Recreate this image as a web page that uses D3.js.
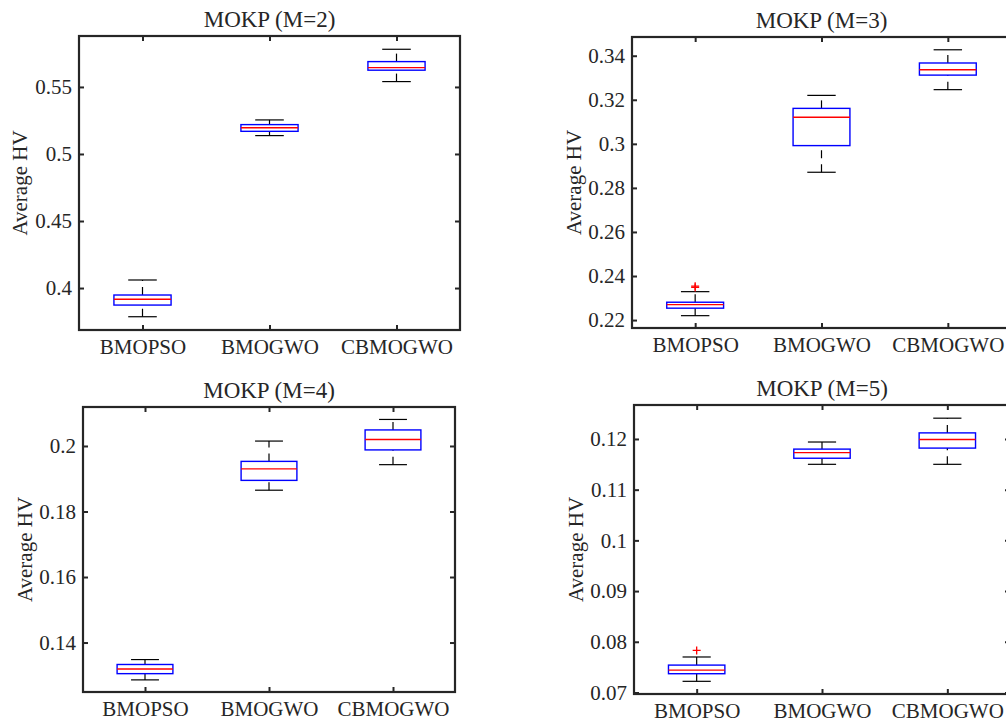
<!DOCTYPE html>
<html>
<head>
  <meta charset="utf-8">
  <script src="https://d3js.org/d3.v7.min.js"></script>
  <style>
    body { margin: 0; background: #fff; }
    text { font-family: "Liberation Serif", "Times New Roman", serif; fill: #262626; }
  </style>
</head>
<body>
<div id="chart"></div>
<script>
// algorithms on the x axis
var methods = ["BMOPSO", "BMOGWO", "CBMOGWO"];
var titles = ["MOKP (M=2)", "MOKP (M=3)", "MOKP (M=4)", "MOKP (M=5)"];

// box stats per method: [lower whisker, q1, median, q3, upper whisker]
var statsM2 = [[0.3786, 0.3873, 0.3916, 0.3948, 0.4060],
               [0.5137, 0.5169, 0.5196, 0.5219, 0.5254],
               [0.5540, 0.5625, 0.5644, 0.5689, 0.5781]];
var statsM3 = [[0.2220, 0.2254, 0.2270, 0.2281, 0.2329],
               [0.2871, 0.2992, 0.3121, 0.3161, 0.3220],
               [0.3246, 0.3312, 0.3336, 0.3367, 0.3427]];
var statsM4 = [[0.1286, 0.1305, 0.1319, 0.1333, 0.1348],
               [0.1865, 0.1895, 0.1930, 0.1953, 0.2015],
               [0.1943, 0.1988, 0.2020, 0.2049, 0.2081]];
var statsM5 = [[0.0722, 0.0737, 0.0744, 0.0754, 0.0770],
               [0.1150, 0.1162, 0.1173, 0.1180, 0.1194],
               [0.1150, 0.1182, 0.1199, 0.1212, 0.1241]];

// outliers: [method index, value]
var outM2 = [];
var outM3 = [[0, 0.2354], [0, 0.2348]];
var outM4 = [];
var outM5 = [[0, 0.0783]];

// y limits and ticks
var limM2 = [0.3687, 0.5880], ticksM2 = [0.4, 0.45, 0.5, 0.55];
var limM3 = [0.2164, 0.3485], ticksM3 = [0.22, 0.24, 0.26, 0.28, 0.30, 0.32, 0.34];
var limM4 = [0.1249, 0.2119], ticksM4 = [0.14, 0.16, 0.18, 0.20];
var limM5 = [0.0697, 0.1267], ticksM5 = [0.07, 0.08, 0.09, 0.10, 0.11, 0.12];

var panels = [
  {title: titles[0], stats: statsM2, out: outM2, lim: limM2, ticks: ticksM2, box: [79, 36, 460, 330], ylab: 19},
  {title: titles[1], stats: statsM3, out: outM3, lim: limM3, ticks: ticksM3, box: [632, 37, 1011, 328], ylab: 573},
  {title: titles[2], stats: statsM4, out: outM4, lim: limM4, ticks: ticksM4, box: [83, 407, 455, 692], ylab: 24},
  {title: titles[3], stats: statsM5, out: outM5, lim: limM5, ticks: ticksM5, box: [634, 405, 1010, 694], ylab: 575}
];

var svg = d3.select("#chart").append("svg")
  .attr("width", 1006)
  .attr("height", 725);

var axisColor = "#262626";

panels.forEach(function(p) {
  var x0 = p.box[0], y0 = p.box[1], x1 = p.box[2], y1 = p.box[3];
  var w = x1 - x0, h = y1 - y0;

  var x = d3.scaleLinear().domain([0.5, 3.5]).range([0, w]);
  var y = d3.scaleLinear().domain(p.lim).range([h, 0]);
  var step = x(2) - x(1);
  var bw = step * 0.45, cw = step * 0.225;

  var g = svg.append("g").attr("transform", "translate(" + x0 + "," + y0 + ")");

  p.stats.forEach(function(s, i) {
    var cx = x(i + 1);
    // whiskers, dashed, drawn bottom to top like matlab does
    [[s[0], s[1]], [s[3], s[4]]].forEach(function(seg) {
      g.append("line").attr("x1", cx).attr("x2", cx)
        .attr("y1", y(seg[0])).attr("y2", y(seg[1]))
        .attr("stroke", "#000").attr("stroke-width", 1.2).attr("stroke-dasharray", "8,6");
    });
    // caps
    [s[0], s[4]].forEach(function(v) {
      g.append("line").attr("x1", cx - cw / 2).attr("x2", cx + cw / 2)
        .attr("y1", y(v)).attr("y2", y(v))
        .attr("stroke", "#000").attr("stroke-width", 1.2);
    });
    // box
    g.append("rect").attr("x", cx - bw / 2).attr("width", bw)
      .attr("y", y(s[3])).attr("height", y(s[1]) - y(s[3]))
      .attr("fill", "none").attr("stroke", "#0000ff").attr("stroke-width", 1.4);
    // median
    g.append("line").attr("x1", cx - bw / 2).attr("x2", cx + bw / 2)
      .attr("y1", y(s[2])).attr("y2", y(s[2]))
      .attr("stroke", "#ff0000").attr("stroke-width", 1.4);
  });

  // outliers
  g.selectAll(".out").data(p.out).enter().append("path")
    .attr("class", "out")
    .attr("transform", function(d) { return "translate(" + x(d[0] + 1) + "," + y(d[1]) + ")"; })
    .attr("d", "M-4,0H4M0,-4V4")
    .attr("stroke", "#ff0000").attr("stroke-width", 1.3).attr("fill", "none");

  // axes, ticks pointing inward
  var left = g.append("g").call(d3.axisLeft(y).tickValues(p.ticks).tickSize(-5).tickPadding(7)
    .tickFormat(function(d) { return d3.format("")(+d.toFixed(3)); }));
  var right = g.append("g").attr("transform", "translate(" + w + ",0)")
    .call(d3.axisRight(y).tickValues(p.ticks).tickSize(-5).tickFormat(""));
  var bottom = g.append("g").attr("transform", "translate(0," + h + ")")
    .call(d3.axisBottom(x).tickValues([1, 2, 3]).tickSize(-5).tickPadding(9)
      .tickFormat(function(d) { return methods[d - 1]; }));
  var top = g.append("g")
    .call(d3.axisTop(x).tickValues([1, 2, 3]).tickSize(-5).tickFormat(""));

  [left, right, bottom, top].forEach(function(a) {
    a.select(".domain").remove();
    a.selectAll(".tick line").attr("stroke", axisColor).attr("stroke-width", 2);
    a.selectAll(".tick text").style("font-size", "21px").attr("fill", axisColor)
      .style("font-family", "Liberation Serif");
  });

  // frame
  g.append("rect").attr("width", w).attr("height", h)
    .attr("fill", "none").attr("stroke", axisColor).attr("stroke-width", 2.2);

  // title
  g.append("text")
    .attr("x", w / 2).attr("y", -9)
    .attr("text-anchor", "middle")
    .style("font-size", "23px")
    .text(p.title);

  // y label
  svg.append("text")
    .attr("transform", "translate(" + (p.ylab + 8) + "," + (y0 + h / 2) + ") rotate(-90)")
    .attr("text-anchor", "middle")
    .style("font-size", "21px")
    .text("Average HV");
});
</script>
</body>
</html>
